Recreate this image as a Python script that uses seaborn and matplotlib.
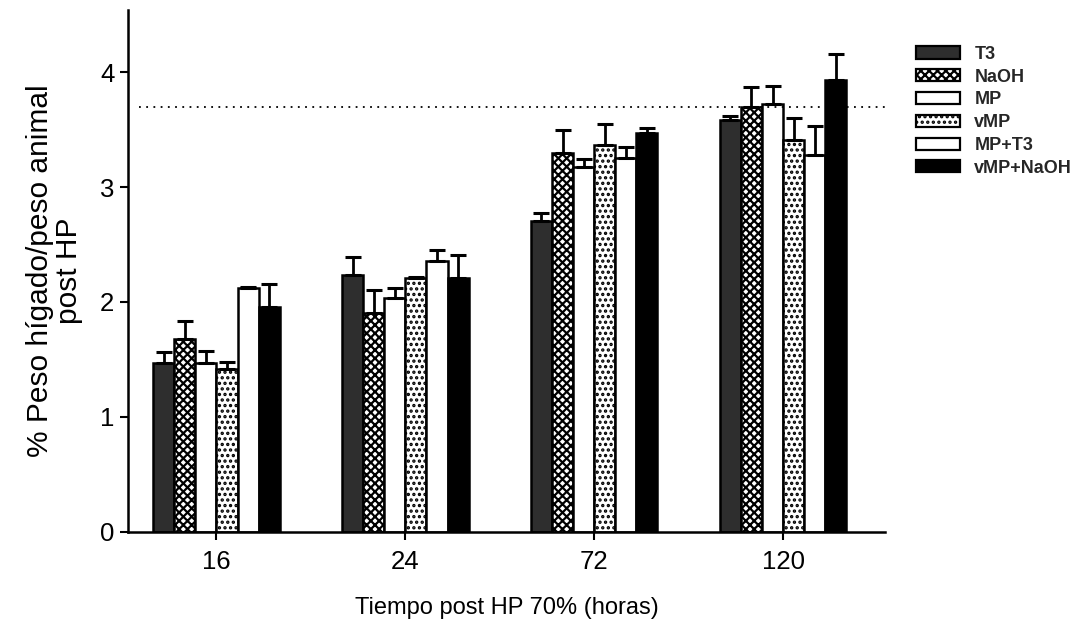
import matplotlib
matplotlib.use("Agg")
import matplotlib.pyplot as plt
from matplotlib import font_manager
import seaborn as sns
import pandas as pd
import numpy as np
from matplotlib.patches import Patch

sns.set_theme(style="ticks")
plt.rcParams['font.family'] = ['Liberation Sans', 'DejaVu Sans']
plt.rcParams['hatch.linewidth'] = 1.6

# ---------------- data ----------------
categories = ["16", "24", "72", "120"]
series = ["T3", "NaOH", "MP", "vMP", "MP+T3", "vMP+NaOH"]

t3_mean      = [1.47, 2.23, 2.70, 3.58]
naoh_mean    = [1.68, 1.90, 3.30, 3.70]
mp_mean      = [1.47, 2.03, 3.17, 3.72]
vmp_mean     = [1.42, 2.21, 3.37, 3.41]
mpt3_mean    = [2.12, 2.36, 3.25, 3.28]
vmpnaoh_mean = [1.96, 2.21, 3.47, 3.93]

t3_err      = [0.09, 0.16, 0.07, 0.04]
naoh_err    = [0.15, 0.20, 0.20, 0.17]
mp_err      = [0.10, 0.09, 0.07, 0.16]
vmp_err     = [0.06, 0.01, 0.18, 0.19]
mpt3_err    = [0.01, 0.09, 0.10, 0.25]
vmpnaoh_err = [0.20, 0.20, 0.04, 0.23]

ref_level = 3.70

ylabel = "% Peso hígado/peso animal\npost HP"
xlabel = "Tiempo post HP 70% (horas)"

means = [t3_mean, naoh_mean, mp_mean, vmp_mean, mpt3_mean, vmpnaoh_mean]
errs = [t3_err, naoh_err, mp_err, vmp_err, mpt3_err, vmpnaoh_err]

rows = []
for s, m, e in zip(series, means, errs):
    for c, v, ev in zip(categories, m, e):
        rows.append({"tiempo": c, "grupo": s, "valor": v, "err": ev})
df = pd.DataFrame(rows)

# narrow font for the axis titles if available
names = {f.name for f in font_manager.fontManager.ttflist}
if "Liberation Sans Narrow" in names:
    title_font = dict(family=["Liberation Sans Narrow", "DejaVu Sans"])
    xl_size, yl_size = 20, 26
else:
    title_font = dict(family=["Liberation Sans", "DejaVu Sans"])
    xl_size, yl_size = 17, 21.5

# styles
faces = ["#2e2e2e", "white", "white", "white", "white", "black"]
hatches = [None, "xxxx", None, "...", None, None]

fig = plt.figure(figsize=(10.82, 6.30), dpi=100)
ax = fig.add_axes([0.118, 0.156, 0.700, 0.828])

sns.barplot(data=df, x="tiempo", y="valor", hue="grupo", order=categories,
            hue_order=series, width=0.67, errorbar=None, ax=ax,
            edgecolor="black", linewidth=1.8, legend=False)

bar_containers = list(ax.containers)
for i, cont in enumerate(bar_containers):
    xs, hs = [], []
    for bar in cont.patches:
        bar.set_facecolor(faces[i])
        bar.set_edgecolor("black")
        if hatches[i]:
            bar.set_hatch(hatches[i])
        xs.append(bar.get_x() + bar.get_width() / 2)
        hs.append(bar.get_height())
    e = np.array(errs[i])
    ax.errorbar(xs, hs, yerr=[np.zeros_like(e), e], fmt="none",
                ecolor="black", elinewidth=2.0, capsize=6, capthick=2.2,
                zorder=1)

ax.axhline(ref_level, xmin=0.015, xmax=1.0, color="black", linestyle=(0, (1, 3)),
           linewidth=1.3)

ax.set_xlim(-0.47, 3.54)
ax.set_ylim(0, 4.54)
ax.set_yticks([0, 1, 2, 3, 4])
ax.set_yticklabels(["0", "1", "2", "3", "4"])
ax.tick_params(axis="both", labelsize=18.5, width=1.5, length=6, color="black",
               labelcolor="black")
ax.tick_params(axis="x", pad=7)
ax.set_ylabel(ylabel, fontsize=yl_size, labelpad=12, color="black",
              linespacing=1.05, **title_font)
ax.set_xlabel(xlabel, fontsize=xl_size, labelpad=17, color="black",
              **title_font)
sns.despine(ax=ax)
for sp in ["left", "bottom"]:
    ax.spines[sp].set_linewidth(1.8)
    ax.spines[sp].set_color("black")

handles = [Patch(facecolor=faces[i], edgecolor="black", hatch=hatches[i],
                 linewidth=1.6) for i in range(len(series))]
leg = fig.legend(handles, series, loc="upper left",
                 bbox_to_anchor=(0.832, 0.953), frameon=False,
                 prop=dict(size=13, weight="bold"),
                 handlelength=2.4, handleheight=0.65, labelspacing=0.32,
                 handletextpad=0.8)

fig.savefig("out.png", dpi=100)
